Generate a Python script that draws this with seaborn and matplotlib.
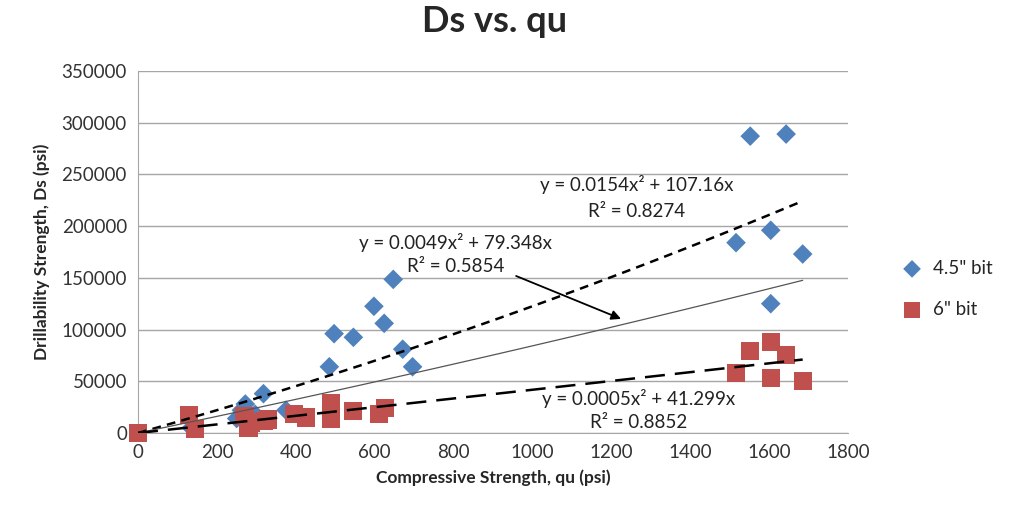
import numpy as np
import pandas as pd
import matplotlib
matplotlib.use("Agg")
import matplotlib.pyplot as plt
import seaborn as sns

# data
qu_45 = [135, 250, 262, 272, 297, 318, 375, 485, 497, 546, 598, 624, 647, 671, 696,
         1516, 1552, 1604, 1604, 1643, 1685]
ds_45 = [5000, 14000, 22000, 28000, 18000, 38000, 22000, 64000, 96000, 92500, 122500,
         106000, 148500, 81000, 64000, 184000, 287000, 196000, 125000, 289000, 173000]

qu_6 = [0, 130, 145, 270, 280, 285, 320, 330, 395, 425, 490, 490, 545, 610, 625,
        1516, 1552, 1604, 1604, 1643, 1685]
ds_6 = [0, 17000, 4000, 16000, 5000, 10000, 12000, 13000, 18000, 15000, 29000, 14000,
        21000, 18000, 24000, 57700, 79500, 88300, 52900, 75400, 50600]

# trendline coefficients (a*x^2 + b*x) as printed on the chart
fit_45 = (0.0154, 107.16)
fit_all = (0.0049, 79.348)
fit_6 = (0.0005, 41.299)

sns.set_style("white")
plt.rcParams["font.family"] = ["Lato", "DejaVu Sans"]

fig = plt.figure(figsize=(10.12, 5.07), dpi=100)
ax = fig.add_axes([0.1364, 0.146, 0.7016, 0.714])

blue = "#4F81BD"
red = "#C0504D"

sns.scatterplot(x=qu_45, y=ds_45, marker="D", s=100, color=blue, edgecolor="none",
                label='4.5" bit', ax=ax, zorder=3)
sns.scatterplot(x=qu_6, y=ds_6, marker="s", s=170, color=red, edgecolor="none",
                label='6" bit', ax=ax, zorder=4)
for c in ax.collections:
    c.set_clip_on(False)

# trendlines
xx = np.linspace(0, max(qu_45), 100)
sns.lineplot(x=xx, y=fit_45[0] * xx**2 + fit_45[1] * xx, color="black", lw=1.8,
             ax=ax, zorder=5).lines[-1].set_dashes([3.5, 2.5])
sns.lineplot(x=xx, y=fit_all[0] * xx**2 + fit_all[1] * xx, color="#555555", lw=0.9,
             ax=ax, zorder=5)
sns.lineplot(x=xx, y=fit_6[0] * xx**2 + fit_6[1] * xx, color="black", lw=1.8,
             ax=ax, zorder=5).lines[-1].set_dashes([8, 4])

fs = 13.5
tc = "#222222"
ax.text(1265, 239800, "y = 0.0154x² + 107.16x", ha="center", va="center", fontsize=fs, color=tc)
ax.text(1265, 213700, "R² = 0.8274", ha="center", va="center", fontsize=fs, color=tc)
ax.text(805, 183700, "y = 0.0049x² + 79.348x", ha="center", va="center", fontsize=fs, color=tc)
ax.text(805, 160500, "R² = 0.5854", ha="center", va="center", fontsize=fs, color=tc)
ax.text(1268, 33800, "y = 0.0005x² + 41.299x", ha="center", va="center", fontsize=fs, color=tc)
ax.text(1268, 9700, "R² = 0.8852", ha="center", va="center", fontsize=fs, color=tc)
ax.annotate("", xy=(1231, 109300), xytext=(952, 152800),
            arrowprops=dict(arrowstyle="-|>", color="black", lw=1.3, mutation_scale=14))

ax.set_xlim(0, 1800)
ax.set_ylim(0, 350000)
ax.set_xticks(range(0, 1801, 200))
ax.set_yticks(range(0, 350001, 50000))
ax.yaxis.grid(True, color="#A6A6A6", lw=1)
ax.set_axisbelow(True)
for side in ["top", "right"]:
    ax.spines[side].set_visible(False)
for side in ["left", "bottom"]:
    ax.spines[side].set_color("#A6A6A6")
ax.tick_params(length=0, labelsize=13.5, labelcolor="#333333", pad=8)

ax.set_xlabel("Compressive Strength, qu (psi)", fontsize=12.5, fontweight="bold", labelpad=6)
ax.set_ylabel("Drillability Strength, Ds (psi)", fontsize=12.5, fontweight="bold", labelpad=8)
fig.text(0.489, 0.957, "Ds vs. qu", ha="center", va="center", fontsize=26, fontweight="bold")

ax.legend(loc="center left", bbox_to_anchor=(0.866, 0.43), bbox_transform=fig.transFigure,
          frameon=False, fontsize=13.5, handletextpad=0.1, labelspacing=1.3, markerscale=0.9)

fig.savefig("out.png", dpi=100)
